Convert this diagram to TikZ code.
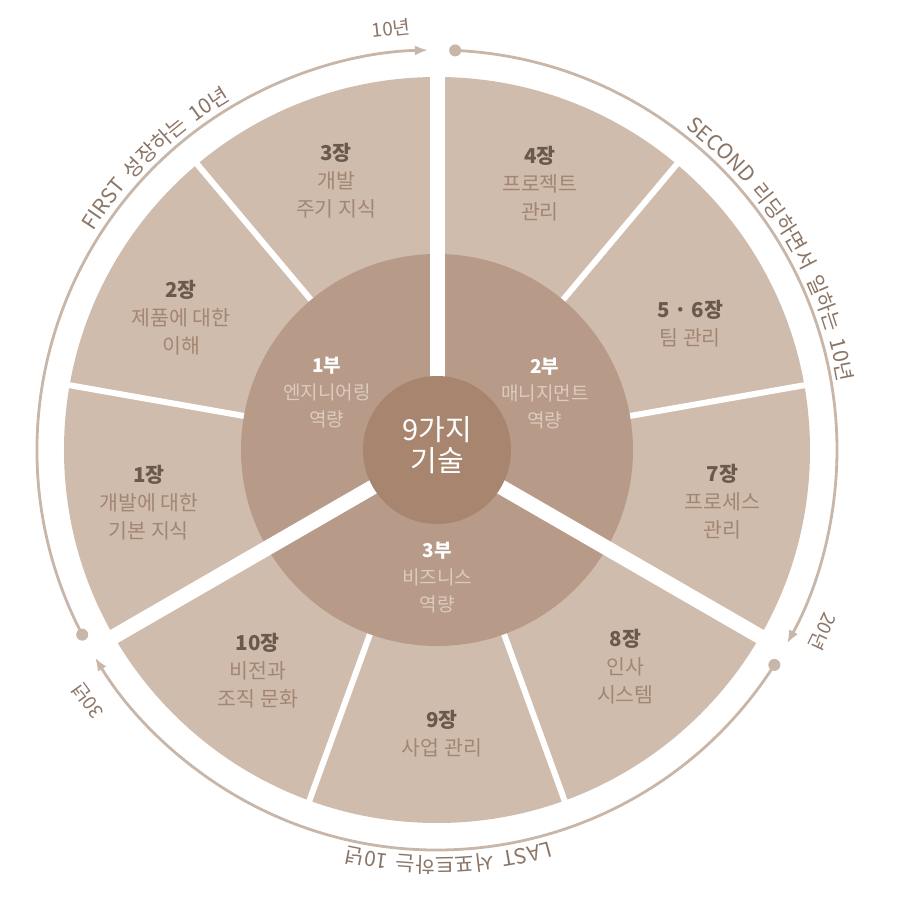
\documentclass[tikz,border=0pt]{standalone}
\usepackage{fontspec}
\setmainfont{Noto Sans CJK KR}
\usepackage{tikz}
\usetikzlibrary{arrows.meta, decorations.text}
\usepackage{xcolor}
\definecolor{secfill}{HTML}{CFBCAD}
\definecolor{partfill}{HTML}{B79A87}
\definecolor{corefill}{HTML}{A7856F}
\definecolor{ringcol}{HTML}{C8B6A8}
\definecolor{chaptitle}{HTML}{6B594E}
\definecolor{chapsub}{HTML}{A38671}
\definecolor{partsub}{HTML}{DCCCBF}
\definecolor{yearlabel}{HTML}{8B7566}
\newcommand{\chapno}[1]{{\bfseries\color{chaptitle}#1}}
\newcommand{\partno}[1]{{\bfseries\color{white}#1}}
\newcommand{\yearfont}{\fontsize{19}{19}\selectfont}
\newcommand{\arcfont}{\fontsize{21}{21}\selectfont\spaceskip=8pt\relax}

\begin{document}
\begin{tikzpicture}[x=1pt, y=1pt,
    chap/.style = {align=center, text=chapsub, font=\fontsize{20.5}{28}\selectfont},
    part/.style = {align=center, text=partsub, font=\fontsize{19}{27}\selectfont},
    year/.style = {text=yearlabel, font=\yearfont},
    gapthin/.style = {white, line width=6},
    gapthick/.style = {white, line width=15},
    ringline/.style = {ringcol, line width=2.8}]
    % Variabili
    \pgfmathsetmacro{\rsec}{373}
    \pgfmathsetmacro{\rpart}{196}
    \pgfmathsetmacro{\rcore}{74}
    \pgfmathsetmacro{\rring}{400}
    \pgfmathsetmacro{\rtext}{407}
    \useasboundingbox (-437,-459) rectangle (463,450);
    % Settori dei capitoli
    \fill[secfill] (0,0) circle (\rsec);
    \draw[gapthin] (130:150) -- (130:380);
    \draw[gapthin] (170:150) -- (170:380);
    \draw[gapthin] (50:150) -- (50:380);
    \draw[gapthin] (10:150) -- (10:380);
    \draw[gapthin] (250:150) -- (250:380);
    \draw[gapthin] (290:150) -- (290:380);
    % Parti
    \fill[partfill] (0,0) circle (\rpart);
    \draw[gapthick] (90:50) -- (90:380);
    \draw[gapthick] (210:50) -- (210:380);
    \draw[gapthick] (330:50) -- (330:380);
    % Centro
    \fill[corefill] (0,0) circle (\rcore);
    \node[align=center, text=white, font=\fontsize{29}{31}\selectfont] (core) at (0,5) {9가지\\기술};
    % Parti
    \node[part] (p1) at (152.6:124) {\partno{1부}\\엔지니어링\\역량};
    \node[part] (p2) at (27.8:122) {\partno{2부}\\매니지먼트\\역량};
    \node[part] (p3) at (-90:128) {\partno{3부}\\비즈니스\\역량};
    % Capitoli
    \node[chap] (c1) at (190.4:293) {\chapno{1장}\\개발에 대한\\기본 지식};
    \node[chap] (c2) at (152.7:288) {\chapno{2장}\\제품에 대한\\이해};
    \node[chap] (c3) at (110.5:288) {\chapno{3장}\\개발\\주기 지식};
    \node[chap] (c4) at (68.9:286) {\chapno{4장}\\프로젝트\\관리};
    \node[chap] (c56) at (26.5:283) {\chapno{5 · 6장}\\팀 관리};
    \node[chap] (c7) at (-10.3:290) {\chapno{7장}\\프로세스\\관리};
    \node[chap] (c8) at (-49:287) {\chapno{8장}\\인사\\시스템};
    \node[chap] (c9) at (-89:284) {\chapno{9장}\\사업 관리};
    \node[chap] (c10) at (230.9:284) {\chapno{10장}\\비전과\\조직 문화};
    % Anello esterno con frecce
    \draw[ringline, -{Latex[length=13pt, width=10pt]}] (207.5:\rring) arc[start angle=207.5, end angle=91.3, radius=\rring];
    \draw[ringline, -{Latex[length=13pt, width=10pt]}] (87.4:\rring) arc[start angle=87.4, end angle=-28.9, radius=\rring];
    \draw[ringline, -{Latex[length=13pt, width=10pt]}] (-32.5:\rring) arc[start angle=-32.5, end angle=-148.7, radius=\rring];
    \fill[ringcol] (207.5:\rring) circle (6);
    \fill[ringcol] (87.4:\rring) circle (6);
    \fill[ringcol] (-32.5:\rring) circle (6);
    % Testi sull'anello
    \path[decorate, decoration={text along path, text align=center, text color=yearlabel,
        text={|\arcfont|FIRST 성장하는 10년}}] (174:\rtext) arc[start angle=174, end angle=94, radius=\rtext];
    \path[decorate, decoration={text along path, text align=center, text color=yearlabel,
        text={|\arcfont|SECOND 리딩하면서 일하는 10년}}] (71:\rtext) arc[start angle=71, end angle=-9, radius=\rtext];
    \path[decorate, decoration={text along path, text align=center, text color=yearlabel,
        text={|\arcfont|LAST 서포트하는 10년}}] (-48.4:\rtext) arc[start angle=-48.4, end angle=-128.4, radius=\rtext];
    % Anni
    \node[year, rotate=6.2] (y10) at (96.2:424) {10년};
    \node[year, rotate=-115.2] (y20) at (-25.2:427) {20년};
    \node[year, rotate=125.7] (y30) at (215.7:430) {30년};
\end{tikzpicture}
\end{document}
